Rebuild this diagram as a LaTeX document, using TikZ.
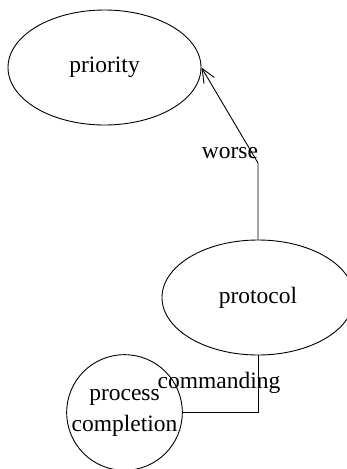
\documentclass[tikz,border=0pt]{standalone}
\usepackage{fontspec}
\setmainfont{Liberation Serif}
\usetikzlibrary{shapes.geometric,arrows.meta}
\begin{document}
\begin{tikzpicture}[x=1pt,y=1pt,
  every node/.style={font=\fontsize{23.5}{31}\selectfont},
  ell/.style={draw,ellipse,inner sep=0pt,line width=0.9pt},
  circ/.style={draw,circle,inner sep=0pt,line width=0.9pt,align=center},
  lbl/.style={inner sep=0pt},
  conn/.style={line width=0.9pt}]
\useasboundingbox (0,0) rectangle (346,-469);
\node[ell,minimum width=193pt,minimum height=115pt] (prio) at (104.5,-67.5) {priority};
\node[ell,minimum width=192pt,minimum height=115pt] (proto) at (258,-297.5) {protocol};
\node[circ,minimum size=115pt] (proc) at (124.5,-412.5) {process\\completion};
\coordinate (c1) at (258,-163);
\draw[conn,-{Straight Barb[length=14pt,width=12pt]}] (proto.north) -- (c1) -- (prio.east);
\draw[conn] (proto.south) |- (proc.east);
\node[lbl] (w) at (230,-153) {worse};
\node[lbl] (cm) at (219,-383) {commanding};
\end{tikzpicture}
\end{document}
